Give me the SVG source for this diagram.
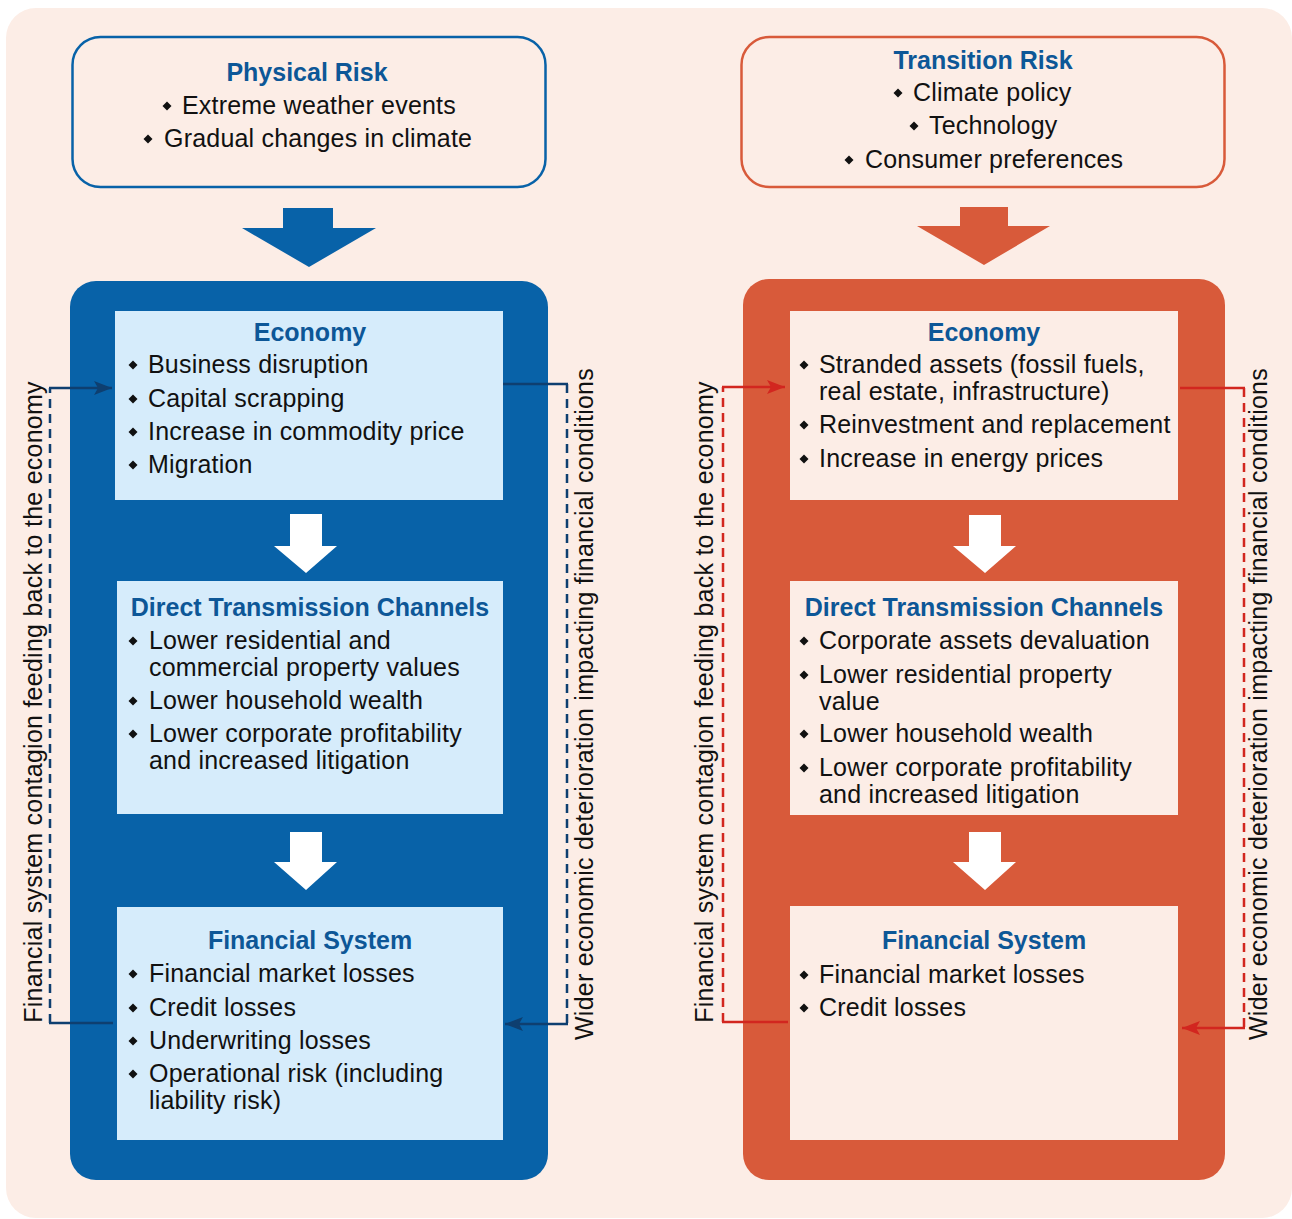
<svg xmlns="http://www.w3.org/2000/svg" width="1292" height="1219" viewBox="0 0 1292 1219">
<style>
.t{font-family:"Liberation Sans",Arial,sans-serif;font-size:25px;fill:#111;letter-spacing:0.2px}
.h{font-family:"Liberation Sans",Arial,sans-serif;font-size:25px;font-weight:bold;fill:#0d5797;text-anchor:middle}
.r{font-family:"Liberation Sans",Arial,sans-serif;font-size:25px;fill:#111;letter-spacing:0.25px;text-anchor:middle}
.cb{stroke:#0e3f70;stroke-width:2.5;fill:none}
.cr{stroke:#d2261f;stroke-width:2.5;fill:none}
.d{stroke-dasharray:9 6}
</style>
<defs>
<polygon id="b" points="0,-4.5 4.5,0 0,4.5 -4.5,0" fill="#111"/>
<marker id="ab" markerUnits="userSpaceOnUse" markerWidth="20" markerHeight="16" refX="18" refY="8" orient="auto"><path d="M0,1 L18,8 L0,15 L4,8 Z" fill="#0e3f70"/></marker>
<marker id="ar" markerUnits="userSpaceOnUse" markerWidth="20" markerHeight="16" refX="18" refY="8" orient="auto"><path d="M0,1 L18,8 L0,15 L4,8 Z" fill="#d2261f"/></marker>
</defs>
<rect x="6" y="8" width="1286" height="1210" rx="30" fill="#fcede6"/>

<g id="physical-risk">
<rect x="72.5" y="37" width="473" height="150" rx="28" fill="none" stroke="#0862a8" stroke-width="2.5"/>
<text class="h" x="307" y="81">Physical Risk</text>
<use href="#b" x="167" y="106"/><text class="t" x="182" y="114">Extreme weather events</text>
<use href="#b" x="148" y="139"/><text class="t" x="164" y="147">Gradual changes in climate</text>
</g>
<g id="transition-risk">
<rect x="741.5" y="37" width="483" height="150" rx="28" fill="none" stroke="#d85a3a" stroke-width="2.5"/>
<text class="h" x="983" y="69">Transition Risk</text>
<use href="#b" x="898" y="93"/><text class="t" x="913" y="101">Climate policy</text>
<use href="#b" x="914" y="126"/><text class="t" x="929" y="134">Technology</text>
<use href="#b" x="849" y="160"/><text class="t" x="865" y="168">Consumer preferences</text>
</g>

<polygon points="283,208 333,208 333,228 376,228 309,267 242,228 283,228" fill="#0862a8"/>
<polygon points="960,207 1008,207 1008,226 1050,226 984,265 917,226 960,226" fill="#d85a3a"/>

<rect x="70" y="281" width="478" height="899" rx="26" fill="#0862a8"/>
<rect x="743" y="279" width="482" height="901" rx="26" fill="#d85a3a"/>

<polygon points="290,514 322,514 322,546 337,546 306,573 274,546 290,546" fill="#fff"/>
<polygon points="290,832 322,832 322,862 337,862 306,890 274,862 290,862" fill="#fff"/>
<polygon points="969,515 1001,515 1001,546 1016,546 985,573 953,546 969,546" fill="#fff"/>
<polygon points="969,832 1001,832 1001,862 1016,862 985,890 953,862 969,862" fill="#fff"/>

<g id="economy-physical">
<rect x="115" y="311" width="388" height="189" fill="#d6ecfb"/>
<text class="h" x="310" y="341">Economy</text>
<use href="#b" x="133" y="365"/><text class="t" x="148" y="373">Business disruption</text>
<use href="#b" x="133" y="399"/><text class="t" x="148" y="407">Capital scrapping</text>
<use href="#b" x="133" y="432"/><text class="t" x="148" y="440">Increase in commodity price</text>
<use href="#b" x="133" y="465"/><text class="t" x="148" y="473">Migration</text>
</g>
<g id="dtc-physical">
<rect x="117" y="581" width="386" height="233" fill="#d6ecfb"/>
<text class="h" x="310" y="616">Direct Transmission Channels</text>
<use href="#b" x="133" y="641"/><text class="t" x="149" y="649">Lower residential and</text>
<text class="t" x="149" y="676">commercial property values</text>
<use href="#b" x="133" y="701"/><text class="t" x="149" y="709">Lower household wealth</text>
<use href="#b" x="133" y="734"/><text class="t" x="149" y="742">Lower corporate profitability</text>
<text class="t" x="149" y="769">and increased litigation</text>
</g>
<g id="fs-physical">
<rect x="117" y="907" width="386" height="233" fill="#d6ecfb"/>
<text class="h" x="310" y="949">Financial System</text>
<use href="#b" x="133" y="974"/><text class="t" x="149" y="982">Financial market losses</text>
<use href="#b" x="133" y="1008"/><text class="t" x="149" y="1016">Credit losses</text>
<use href="#b" x="133" y="1041"/><text class="t" x="149" y="1049">Underwriting losses</text>
<use href="#b" x="133" y="1074"/><text class="t" x="149" y="1082">Operational risk (including</text>
<text class="t" x="149" y="1109">liability risk)</text>
</g>

<g id="economy-transition">
<rect x="790" y="311" width="388" height="189" fill="#fcede6"/>
<text class="h" x="984" y="341">Economy</text>
<use href="#b" x="804" y="365"/><text class="t" x="819" y="373">Stranded assets (fossil fuels,</text>
<text class="t" x="819" y="400">real estate, infrastructure)</text>
<use href="#b" x="804" y="425"/><text class="t" x="819" y="433">Reinvestment and replacement</text>
<use href="#b" x="804" y="459"/><text class="t" x="819" y="467">Increase in energy prices</text>
</g>
<g id="dtc-transition">
<rect x="790" y="581" width="388" height="234" fill="#fcede6"/>
<text class="h" x="984" y="616">Direct Transmission Channels</text>
<use href="#b" x="804" y="641"/><text class="t" x="819" y="649">Corporate assets devaluation</text>
<use href="#b" x="804" y="675"/><text class="t" x="819" y="683">Lower residential property</text>
<text class="t" x="819" y="710">value</text>
<use href="#b" x="804" y="734"/><text class="t" x="819" y="742">Lower household wealth</text>
<use href="#b" x="804" y="768"/><text class="t" x="819" y="776">Lower corporate profitability</text>
<text class="t" x="819" y="803">and increased litigation</text>
</g>
<g id="fs-transition">
<rect x="790" y="906" width="388" height="234" fill="#fcede6"/>
<text class="h" x="984" y="949">Financial System</text>
<use href="#b" x="804" y="975"/><text class="t" x="819" y="983">Financial market losses</text>
<use href="#b" x="804" y="1008"/><text class="t" x="819" y="1016">Credit losses</text>
</g>

<g id="connectors">
<line class="cb" x1="113" y1="1023" x2="49" y2="1023"/>
<line class="cb d" x1="50" y1="1023" x2="50" y2="388"/>
<line class="cb" x1="49" y1="388" x2="112" y2="388" marker-end="url(#ab)"/>
<line class="cb" x1="503" y1="384" x2="568" y2="384"/>
<line class="cb d" x1="567" y1="384" x2="567" y2="1024"/>
<line class="cb" x1="568" y1="1024" x2="505" y2="1024" marker-end="url(#ab)"/>
<line class="cr" x1="788" y1="1022" x2="722" y2="1022"/>
<line class="cr d" x1="723" y1="1022" x2="723" y2="387"/>
<line class="cr" x1="722" y1="387" x2="785" y2="387" marker-end="url(#ar)"/>
<line class="cr" x1="1180" y1="388" x2="1245" y2="388"/>
<line class="cr d" x1="1244" y1="388" x2="1244" y2="1028"/>
<line class="cr" x1="1245" y1="1028" x2="1182" y2="1028" marker-end="url(#ar)"/>
<text class="r" transform="translate(42,702) rotate(-90)">Financial system contagion feeding back to the economy</text>
<text class="r" transform="translate(593,704) rotate(-90)">Wider economic deterioration impacting financial conditions</text>
<text class="r" transform="translate(713,702) rotate(-90)">Financial system contagion feeding back to the economy</text>
<text class="r" transform="translate(1267,704) rotate(-90)">Wider economic deterioration impacting financial conditions</text>
</g>
</svg>
